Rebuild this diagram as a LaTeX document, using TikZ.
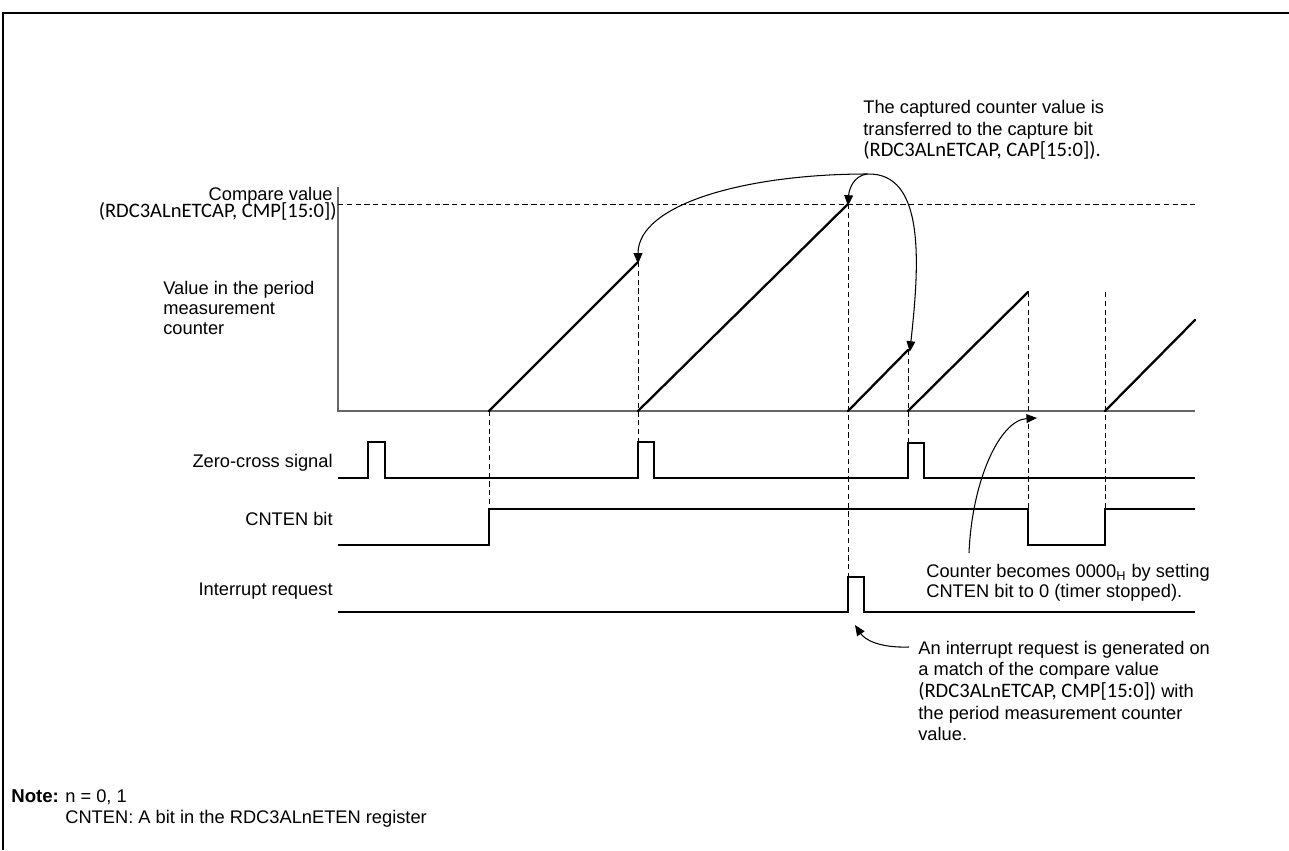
\documentclass[tikz,border=0pt]{standalone}
\usepackage{fontspec}
\setmainfont{Liberation Sans}
\newfontfamily\regfont{Carlito}
\usetikzlibrary{arrows.meta,positioning}

\newcommand{\regtxt}[1]{{\regfont\fontsize{11.7}{12}\selectfont #1}}

\begin{document}
\begin{tikzpicture}[
    x=0.02cm, y=-0.02cm,
    every node/.style={font=\fontsize{10.4}{12.3}\selectfont, inner sep=0pt},
    lbl/.style={anchor=east, align=right},
    note/.style={anchor=west, align=left},
    sig/.style={line width=1.2pt, line join=miter},
    ramp/.style={line width=1.3pt, line cap=round},
    axis/.style={line width=0.9pt, black!60},
    guide/.style={line width=0.45pt, dash pattern=on 3pt off 2pt},
    callout/.style={line width=0.6pt, -{Triangle[length=6pt,width=5pt]}}
  ]
    \useasboundingbox (0,0) rectangle (1289,850);
    % frame
    \draw[line width=1.6pt] (3,13) -- (1289,13);
    \draw[line width=1.1pt] (3,12) -- (3,850);

    % counter value
    \draw[axis] (338,187) -- (338,411) -- (1195,411);
    \draw[guide] (338,204) -- (1195,204);
    \coordinate (p1) at (638,262);
    \coordinate (p2) at (848,204);
    \coordinate (p3) at (908,350);
    \coordinate (p4) at (1028,292);
    \draw[ramp] (489,411) -- (p1);
    \draw[ramp] (638,411) -- (p2);
    \draw[ramp] (848,411) -- (p3);
    \draw[ramp] (908,411) -- (p4);
    \draw[ramp] (1105,411) -- (1195,320);

    % signals
    \draw[sig] (338,478) -- (368,478) -- (368,442) -- (385,442) -- (385,478)
      -- (638,478) -- (638,442) -- (654,442) -- (654,478)
      -- (908,478) -- (908,443) -- (924,443) -- (924,478) -- (1195,478);
    \draw[sig] (338,545) -- (489,545) -- (489,509) -- (1028,509) -- (1028,545)
      -- (1105,545) -- (1105,509) -- (1195,509);
    \draw[sig] (338,612) -- (848,612) -- (848,577) -- (864,577) -- (864,612)
      -- (1195,612);

    % guides
    \draw[guide] (489,411) -- (489,509);
    \draw[guide] (p1) -- (638,442);
    \draw[guide] (p2) -- (848,577);
    \draw[guide] (p3) -- (908,443);
    \draw[guide] (p4) -- (1028,509);
    \draw[guide] (1105,292) -- (1105,509);

    % labels
    \node[anchor=base east] (cmp) at (333,200) {Compare value};
    \node[anchor=base east] (cmpreg) at (337,217) {\regtxt{(RDC3ALnETCAP, CMP[15:0])}};
    \node[note, font=\fontsize{10.4}{11.6}\selectfont] (cnt) at (163,308)
      {Value in the period\\measurement\\counter};
    \node[lbl] (zc) at (333,463) {Zero-cross signal};
    \node[lbl] (en) at (333,519) {CNTEN bit};
    \node[lbl] (irq) at (333,591) {Interrupt request};

    % notes
    \node[note] (capnote) at (863,130)
      {The captured counter value is\\transferred to the capture bit\\
       \regtxt{(RDC3ALnETCAP, CAP[15:0]).}};
    \node[note, font=\fontsize{10.4}{11.4}\selectfont] (stopnote) at (926,583)
      {Counter becomes 0000\textsubscript{H} by setting\\CNTEN bit to 0 (timer stopped).};
    \node[note] (irqnote) at (918,691)
      {An interrupt request is generated on\\a match of the compare value\\
       \regtxt{(RDC3ALnETCAP, CMP[15:0])} with\\the period measurement counter\\value.};

    \coordinate (cap) at (867,174);
    \coordinate (stopfrom) at (969,553);
    \coordinate (stopto) at (1037,418);
    \coordinate (irqfrom) at (909,647);
    \coordinate (irqto) at (855,625);
    \draw[callout] (cap) .. controls +(-120,0) and +(0,-60) .. ([yshift=-1pt]p1);
    \draw[callout] (cap) .. controls +(-14,2) and +(1,-16) .. ([yshift=-1pt]p2);
    \draw[callout] (cap) .. controls +(58,-2) and +(10,-90) .. ([xshift=1pt,yshift=-1pt]p3);
    \draw[callout] (stopfrom) .. controls +(3,-73) and +(-37,2) .. (stopto);
    \draw[callout] (irqfrom) .. controls +(-29,1) and +(10,15) .. (irqto);

    \node[anchor=base west, font=\bfseries\fontsize{10.6}{12}\selectfont] (notehd) at (11,802) {Note:};
    \node[anchor=base west] (n1) at (65,802) {n = 0, 1};
    \node[anchor=base west] (n2) at (65,823) {CNTEN: A bit in the RDC3ALnETEN register};
  \end{tikzpicture}
\end{document}
